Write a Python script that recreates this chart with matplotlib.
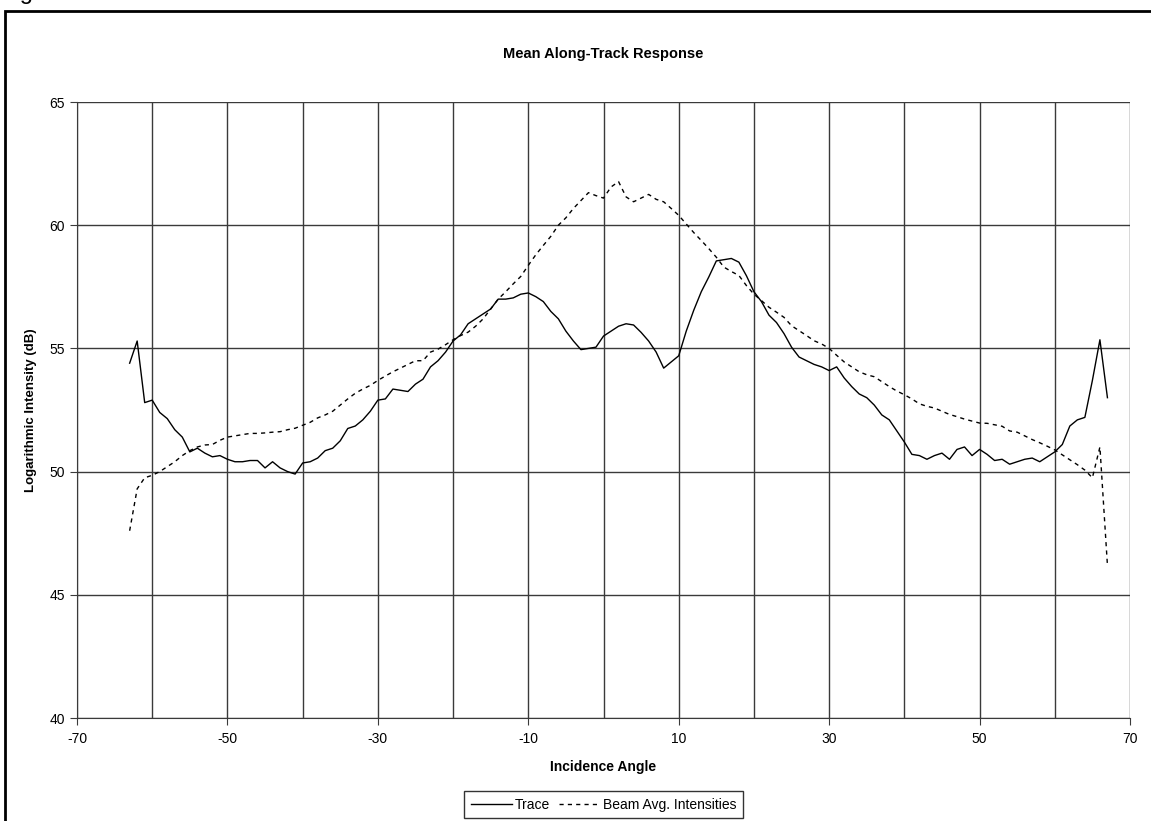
import matplotlib
matplotlib.use("Agg")
import matplotlib.pyplot as plt
from matplotlib.patches import Rectangle

# incidence angle samples (deg)
angles = list(range(-63, 68))

trace = [
    54.4, 55.3, 52.8, 52.9, 52.4, 52.15, 51.7, 51.4, 50.8, 50.95,   # -63..-54
    50.75, 50.6, 50.65, 50.5, 50.4, 50.4, 50.45, 50.45, 50.15, 50.4,  # -53..-44
    50.15, 50.0, 49.9, 50.35, 50.4, 50.55, 50.85, 50.95, 51.25, 51.75,  # -43..-34
    51.85, 52.1, 52.45, 52.9, 52.95, 53.35, 53.3, 53.25, 53.55, 53.75,  # -33..-24
    54.25, 54.5, 54.85, 55.3, 55.55, 56.0, 56.2, 56.4, 56.6, 57.0,  # -23..-14
    57.0, 57.05, 57.2, 57.25, 57.1, 56.9, 56.5, 56.2, 55.7, 55.3,  # -13..-4
    54.95, 55.0, 55.05, 55.5, 55.7, 55.9, 56.0, 55.95, 55.65, 55.3,  # -3..6
    54.85, 54.2, 54.45, 54.7, 55.7, 56.55, 57.3, 57.9, 58.55, 58.6,  # 7..16
    58.65, 58.5, 57.95, 57.3, 56.9, 56.35, 56.05, 55.6, 55.05, 54.65,  # 17..26
    54.5, 54.35, 54.25, 54.1, 54.25, 53.8, 53.45, 53.15, 53.0, 52.7,  # 27..36
    52.3, 52.1, 51.65, 51.2, 50.7, 50.65, 50.5, 50.65, 50.75, 50.5,  # 37..46
    50.9, 51.0, 50.65, 50.9, 50.7, 50.45, 50.5, 50.3, 50.4, 50.5,  # 47..56
    50.55, 50.4, 50.6, 50.8, 51.1, 51.85, 52.1, 52.2, 53.7, 55.35,  # 57..66
    53.0,  # 67
]

beam_avg = [
    47.6, 49.3, 49.75, 49.85, 50.0, 50.2, 50.4, 50.65, 50.85, 51.0,  # -63..-54
    51.08, 51.1, 51.27, 51.4, 51.45, 51.5, 51.55, 51.55, 51.57, 51.6,  # -53..-44
    51.62, 51.7, 51.76, 51.88, 52.0, 52.18, 52.3, 52.45, 52.7, 52.95,  # -43..-34
    53.18, 53.35, 53.5, 53.7, 53.88, 54.05, 54.2, 54.35, 54.5, 54.5,  # -33..-24
    54.85, 54.97, 55.15, 55.35, 55.52, 55.66, 55.9, 56.2, 56.6, 57.0,  # -23..-14
    57.3, 57.62, 57.92, 58.37, 58.8, 59.18, 59.55, 60.0, 60.3, 60.68,  # -13..-4
    61.0, 61.32, 61.2, 61.1, 61.55, 61.77, 61.15, 60.95, 61.1, 61.25,  # -3..6
    61.05, 60.95, 60.68, 60.4, 60.05, 59.7, 59.38, 59.05, 58.7, 58.3,  # 7..16
    58.12, 57.96, 57.55, 57.2, 56.94, 56.67, 56.47, 56.26, 55.92, 55.72,  # 17..26
    55.52, 55.31, 55.18, 55.0, 54.72, 54.45, 54.25, 54.05, 53.93, 53.85,  # 27..36
    53.65, 53.45, 53.27, 53.12, 52.95, 52.75, 52.65, 52.58, 52.45, 52.32,  # 37..46
    52.23, 52.13, 52.05, 51.97, 51.96, 51.9, 51.84, 51.65, 51.6, 51.45,  # 47..56
    51.3, 51.17, 51.03, 50.88, 50.68, 50.48, 50.28, 50.06, 49.75, 51.0,  # 57..66
    46.2,  # 67
]

x_ticks = [-70, -50, -30, -10, 10, 30, 50, 70]
y_ticks = [40, 45, 50, 55, 60, 65]

plt.rcParams["font.family"] = ["Liberation Sans", "DejaVu Sans"]
plt.rcParams["axes.unicode_minus"] = False

fig = plt.figure(figsize=(11.51, 8.21), dpi=100)

# outer chart frame (cropped on right and bottom)
fig.patches.append(
    Rectangle(
        (5 / 1151, -0.05), 1.2, 1 - 11 / 821 + 0.05,
        transform=fig.transFigure,
        fill=False, edgecolor="black", linewidth=2
    )
)

# caption above the chart, mostly cut off by the crop
fig.text(0.0, 1 + 1 / 821, "Figure 6", fontsize=17, va="baseline", ha="left")

ax = fig.add_axes([77 / 1151, 1 - 718 / 821, (1130 - 77) / 1151, (718 - 102) / 821])

ax.plot(angles, trace, color="black", linewidth=1, label="Trace")
ax.plot(angles, beam_avg, color="black", linewidth=1,
        linestyle=(0, (3, 3)), label="Beam Avg. Intensities")

ax.set_xlim(-70, 70)
ax.set_ylim(40, 65)
ax.set_xticks(x_ticks)
ax.set_xticks(range(-70, 71, 10), minor=True)
ax.set_yticks(y_ticks)

ax.grid(True, which="both", axis="x", color="#3a3a3a", linewidth=1)
ax.grid(True, which="major", axis="y", color="#3a3a3a", linewidth=1)
ax.set_axisbelow(True)

for side in ["top", "right"]:
    ax.spines[side].set_visible(False)
ax.spines["left"].set_color("#3a3a3a")
ax.spines["bottom"].set_color("#3a3a3a")

ax.tick_params(axis="both", which="major", direction="out", length=5,
               color="#3a3a3a", labelsize=10)
ax.tick_params(axis="x", which="minor", length=0)
ax.tick_params(axis="x", pad=5)

ax.set_title("Mean Along-Track Response", fontsize=10.5, fontweight="bold", pad=32)
ax.set_xlabel("Incidence Angle", fontsize=10, fontweight="bold", labelpad=10)
ax.set_ylabel("Logarithmic Intensity (dB)", fontsize=9.5, fontweight="bold", labelpad=9)

leg = ax.legend(
    loc="upper center",
    bbox_to_anchor=(0.5, -0.108),
    ncol=2,
    frameon=True,
    fancybox=False,
    edgecolor="black",
    fontsize=10,
    handlelength=3.0,
    handletextpad=0.2,
    columnspacing=0.6,
    borderpad=0.45,
)
leg.get_frame().set_linewidth(1)

plt.savefig("out.png", dpi=100)
